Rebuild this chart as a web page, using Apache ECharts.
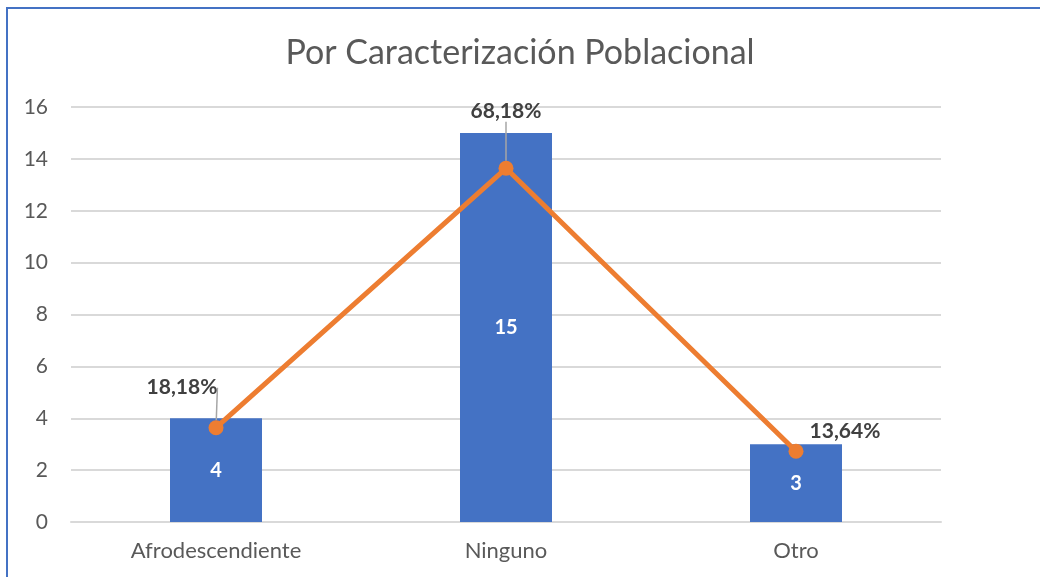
<!DOCTYPE html>
<html>
<head>
<meta charset="utf-8">
<script src="https://cdn.jsdelivr.net/npm/echarts@6/dist/echarts.min.js"></script>
<style>
  html, body { margin: 0; padding: 0; background: #fff; }
  .frame {
    position: absolute; left: 6px; top: 7px; width: 1100px; height: 700px;
    border-left: 2px solid #4472C4; border-top: 2px solid #4472C4;
  }
  .chart { position: absolute; left: 0; top: 0; width: 1040px; height: 577px; }
</style>
</head>
<body>
<div class="frame"></div>
<div class="chart" id="main"></div>
<script>
// datos del gráfico
const categories = ['Afrodescendiente', 'Ninguno', 'Otro']
const counts = [4, 15, 3]
const shares = [0.1818, 0.6818, 0.1364]

// desplazamiento de las etiquetas de porcentaje
const labelShift = [[-34, -40], [0, -57], [49, -20]]

const txt = '#595959'
const font = 'Lato, "Open Sans", sans-serif'

const myChart = echarts.init(document.getElementById('main'))

const option = {
  animation: false,
  title: {
    text: 'Por Caracterización Poblacional',
    left: 'center',
    top: 31,
    textStyle: { color: txt, fontSize: 34, fontWeight: 'normal', fontFamily: font }
  },
  grid: { left: 71, right: 99, top: 107, bottom: 55 },
  xAxis: {
    type: 'category',
    data: categories,
    axisTick: { show: false },
    axisLine: { lineStyle: { color: '#d9d9d9', width: 2 } },
    axisLabel: { color: txt, fontSize: 22, margin: 18, fontFamily: font }
  },
  yAxis: [
    {
      type: 'value',
      min: 0,
      max: 16,
      interval: 2,
      axisLabel: { color: txt, fontSize: 21, margin: 23, fontFamily: font },
      splitLine: { lineStyle: { color: '#d9d9d9', width: 2 } }
    },
    {
      type: 'value',
      min: 0,
      max: 0.8,
      show: false,
      splitLine: { show: false }
    }
  ],
  series: [
    {
      name: 'Cantidad',
      type: 'bar',
      data: counts,
      barWidth: 92,
      itemStyle: { color: '#4472C4' },
      label: {
        show: true,
        position: 'inside',
        color: '#fff',
        fontSize: 20,
        fontWeight: 'bold',
        fontFamily: font
      }
    },
    {
      name: 'Porcentaje',
      type: 'line',
      yAxisIndex: 1,
      data: shares.map((v, i) => ({
        value: v,
        labelLine: { show: i !== 2 }
      })),
      symbol: 'circle',
      symbolSize: 15,
      lineStyle: { color: '#ED7D31', width: 5 },
      itemStyle: { color: '#ED7D31' },
      label: {
        show: true,
        position: 'inside',
        color: '#404040',
        fontSize: 21,
        fontWeight: 'bold',
        fontFamily: font,
        formatter: (p) => (p.value * 100).toFixed(2).replace('.', ',') + '%'
      },
      labelLine: {
        show: true,
        lineStyle: { color: '#a6a6a6', width: 1.5 }
      },
      labelLayout: (params) => ({
        dx: labelShift[params.dataIndex][0],
        dy: labelShift[params.dataIndex][1]
      }),
      z: 5
    }
  ]
}
myChart.setOption(option)
</script>
</body>
</html>
